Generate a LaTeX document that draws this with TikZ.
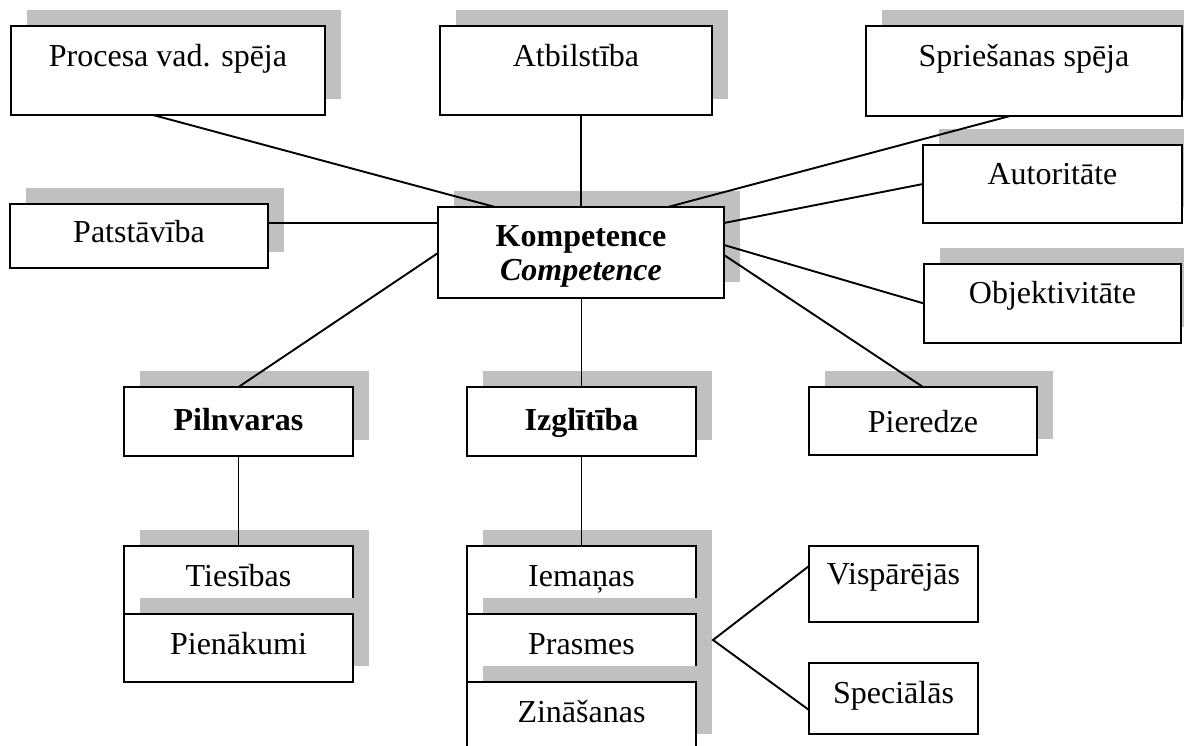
\documentclass[tikz,border=0pt]{standalone}
\usepackage{fontspec}
\setmainfont{Liberation Serif}
\usetikzlibrary{calc}
\definecolor{shadowc}{RGB}{192,192,192}
\tikzset{
  boxst/.style={draw=black, fill=white, line width=1.9pt, inner sep=0pt, outer sep=0pt, rectangle},
  lbl/.style={inner sep=0pt, anchor=base, font=\fontsize{32}{38}\selectfont},
  conn/.style={draw=black, line width=1.9pt},
  shad/.style={fill=shadowc}
}
\newcommand\shbox[7]{% name, x1, y1, x2, y2, text, baseline offset
  \fill[shad] (#2+16,#3-16) rectangle (#4+16,#5-16);
  \node[boxst, minimum width={#4-#2}, minimum height={#5-#3}, anchor=north west] (#1) at (#2,#3) {};
  \node[lbl] (#1-t) at ($(#1.north)+(0,#7)$) {#6};
}
\newcommand\plbox[7]{% no shadow
  \node[boxst, minimum width={#4-#2}, minimum height={#5-#3}, anchor=north west] (#1) at (#2,#3) {};
  \node[lbl] (#1-t) at ($(#1.north)+(0,#7)$) {#6};
}
\begin{document}
\begin{tikzpicture}[x=1pt, y=-1pt]
\useasboundingbox (0,0) rectangle (1184,746);
\clip (0,0) rectangle (1184,746);
\fill[white] (0,0) rectangle (1184,746);

% top row
\shbox{proc}{11}{26}{325}{115}{Procesa vad. spēja}{41}
\shbox{atb}{440}{26}{712}{115}{Atbilstība}{41}
\shbox{spr}{866}{26}{1182}{116}{Spriešanas spēja}{41}
\shbox{aut}{923}{145}{1182}{223}{Autoritāte}{40}
\shbox{pat}{10}{204}{268}{268}{Patstāvība}{39}
\shbox{obj}{924}{264}{1181}{343}{Objektivitāte}{39}

% centre
\fill[shad] (454,191) rectangle (740,282);
\node[boxst, minimum width=286, minimum height=91, anchor=north west] (komp) at (438,207) {};
\node[lbl] (komp-t1) at ($(komp.north)+(0,40)$) {\textbf{Kompetence}};
\node[lbl] (komp-t2) at ($(komp.north)+(0,73)$) {\textbf{\textit{Competence}}};

% middle row
\shbox{pil}{124}{387}{353}{456}{\textbf{Pilnvaras}}{43}
\shbox{izg}{467}{387}{696}{456}{\textbf{Izglītība}}{43}
\shbox{pie}{809}{387}{1037}{455}{Pieredze}{45}

% bottom stacks
\shbox{ties}{124}{546}{353}{614}{Tiesības}{40}
\shbox{pien}{124}{614}{353}{682}{Pienākumi}{40}
\shbox{iem}{467}{546}{696}{614}{Iemaņas}{40}
\shbox{pras}{467}{614}{696}{682}{Prasmes}{40}
\shbox{zin}{467}{682}{696}{750}{Zināšanas}{40}
\plbox{visp}{809}{546}{978}{622}{Vispārējās}{38}
\plbox{spec}{809}{663}{978}{734}{Speciālās}{40}

% connectors
\draw[conn] ($(proc.south west)+(142,0)$) -- ($(komp.north west)+(57,0)$);
\draw[conn] (atb.south -| komp.north) -- (komp.north);
\draw[conn] ($(spr.south west)+(144,0)$) -- ($(komp.north west)+(230,0)$);
\draw[conn] (aut.west) -- ($(komp.north east)+(0,16)$);
\draw[conn] (obj.west) -- ($(komp.north east)+(0,38)$);
\draw[conn] (pie.north) -- ($(komp.north east)+(0,48)$);
\draw[conn] ($(pat.north east)+(0,19)$) -- ($(komp.north west)+(0,16)$);
\draw[conn] (pil.north) -- ($(komp.north west)+(0,46)$);
\draw[conn] (izg.north) -- (izg.north |- komp.south);
\draw[conn] (pil.south) -- (ties.north);
\draw[conn] (izg.south) -- (iem.north);
\coordinate (fork) at (713,640);
\draw[conn] ($(visp.north west)+(0,20)$) -- (fork) -- ($(spec.north west)+(0,47)$);
\end{tikzpicture}
\end{document}
